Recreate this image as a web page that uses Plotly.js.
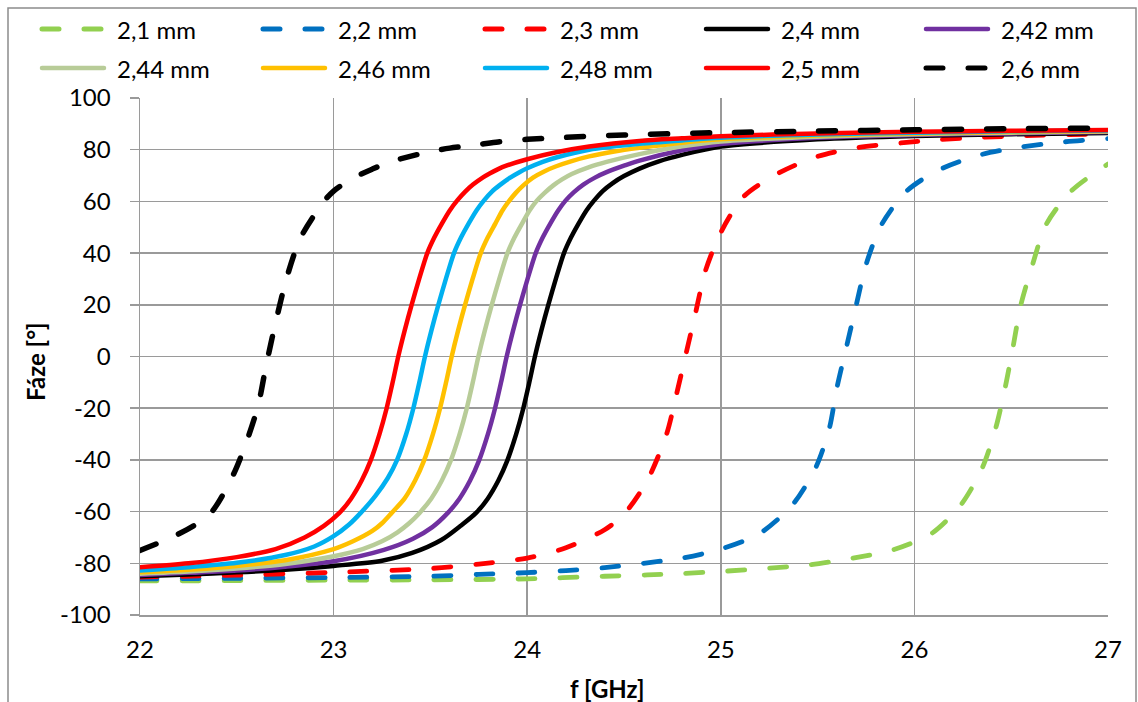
<!DOCTYPE html>
<html>
<head>
<meta charset="utf-8">
<script src="https://cdn.plot.ly/plotly-3.0.1.min.js"></script>
<style>
html, body { margin: 0; padding: 0; background: #fff; }
#chart { width: 1138px; height: 702px; }
.js-line { stroke-linecap: round; }
.shapelayer path { stroke-linecap: round; }
</style>
</head>
<body>
<div id="chart"></div>
<script>
// ---- Data ----
const seriesNames = ["2,1 mm", "2,2 mm", "2,3 mm", "2,4 mm", "2,42 mm", "2,44 mm", "2,46 mm", "2,48 mm", "2,5 mm", "2,6 mm"];

const f_21 = [22.0, 22.5, 23.0, 23.5, 24.0, 24.4, 24.62, 24.81, 25.03, 25.25, 25.46, 25.68, 25.89, 26.09, 26.24, 26.35, 26.42, 26.47, 26.51, 26.55, 26.61, 26.68, 26.81, 27.0];
const p_21 = [-86.8, -86.7, -86.5, -86.4, -86.0, -85.0, -84.5, -83.9, -83.0, -81.9, -80.6, -78.0, -74.8, -68.4, -57.4, -43.2, -27.7, -11.6, 3.9, 20.0, 35.5, 51.0, 64.0, 74.5];

const f_22 = [22.0, 22.5, 23.0, 23.5, 23.75, 24.0, 24.2, 24.4, 24.6, 24.8, 25.0, 25.2, 25.37, 25.49, 25.56, 25.6, 25.65, 25.7, 25.75, 25.83, 25.96, 26.13, 26.34, 26.55, 26.77, 27.0];
const p_22 = [-86.0, -85.8, -85.5, -85.0, -84.3, -83.6, -82.8, -81.7, -80.0, -78.0, -74.5, -68.5, -57.4, -43.0, -28.0, -12.0, 4.0, 20.0, 35.5, 51.0, 64.0, 72.3, 78.0, 81.0, 83.0, 84.3];

const f_23 = [22.0, 22.5, 23.0, 23.5, 23.75, 24.0, 24.2, 24.4, 24.5, 24.62, 24.72, 24.77, 24.82, 24.87, 24.92, 25.0, 25.12, 25.3, 25.5, 25.7, 25.93, 26.13, 26.35, 26.56, 26.8, 27.0];
const p_23 = [-85.3, -84.6, -83.5, -82.0, -80.3, -78.0, -74.0, -67.0, -61.0, -48.0, -30.0, -15.0, 1.0, 17.0, 33.0, 48.0, 62.0, 71.0, 77.4, 80.7, 82.6, 83.9, 84.8, 85.4, 85.8, 86.0];

const f_24 = [22.0, 22.25, 22.5, 22.75, 23.0, 23.25, 23.406, 23.556, 23.656, 23.736, 23.796, 23.851, 23.896, 23.943, 23.98, 24.011, 24.04, 24.073, 24.109, 24.148, 24.19, 24.226, 24.266, 24.306, 24.345, 24.39, 24.44, 24.5, 24.58, 24.68, 24.8, 25.0, 25.5, 26.0, 26.5, 27.0];
const p_24 = [-85.0, -84.3, -83.5, -82.5, -81.0, -79.0, -76.0, -71.0, -65.5, -60.5, -55.0, -48.0, -40.5, -30.0, -20.0, -10.0, 0.0, 10.0, 20.0, 30.0, 40.0, 46.0, 51.5, 56.5, 60.3, 64.0, 67.0, 69.8, 72.7, 75.5, 78.0, 81.2, 84.0, 85.3, 86.0, 86.5];

const f_242 = [22.0, 22.25, 22.5, 22.75, 23.0, 23.26, 23.41, 23.51, 23.59, 23.65, 23.705, 23.75, 23.797, 23.834, 23.865, 23.894, 23.927, 23.963, 24.002, 24.044, 24.08, 24.12, 24.16, 24.198, 24.24, 24.29, 24.35, 24.41, 24.5, 24.58, 24.8, 25.0, 25.5, 26.0, 26.5, 27.0];
const p_242 = [-84.5, -83.7, -82.8, -81.3, -79.2, -74.8, -70.5, -66.0, -60.5, -55.0, -48.0, -40.5, -30.0, -20.0, -10.0, 0.0, 10.0, 20.0, 30.0, 40.0, 46.0, 51.5, 56.5, 60.3, 63.5, 66.5, 69.2, 71.3, 73.8, 75.8, 79.8, 82.2, 84.6, 85.7, 86.3, 86.8];

const f_244 = [22.0, 22.25, 22.5, 22.75, 23.0, 23.15, 23.25, 23.33, 23.39, 23.444, 23.504, 23.559, 23.604, 23.651, 23.688, 23.719, 23.748, 23.781, 23.817, 23.856, 23.898, 23.934, 23.974, 24.012, 24.05, 24.09, 24.135, 24.18, 24.23, 24.32, 24.41, 24.58, 24.8, 25.0, 25.5, 26.0, 26.5, 27.0];
const p_244 = [-84.0, -83.2, -82.0, -80.3, -77.3, -74.5, -71.5, -68.0, -64.5, -60.5, -55.0, -48.0, -40.5, -30.0, -20.0, -10.0, 0.0, 10.0, 20.0, 30.0, 40.0, 46.0, 51.5, 56.5, 60.3, 63.3, 66.2, 68.5, 70.6, 73.3, 75.3, 78.3, 81.3, 83.2, 85.0, 86.0, 86.6, 87.0];

const f_246 = [22.0, 22.25, 22.5, 22.75, 23.0, 23.1, 23.2, 23.25, 23.3, 23.366, 23.421, 23.466, 23.513, 23.55, 23.581, 23.61, 23.643, 23.679, 23.718, 23.76, 23.796, 23.836, 23.872, 23.905, 23.94, 23.98, 24.03, 24.09, 24.15, 24.23, 24.32, 24.45, 24.58, 24.8, 25.0, 25.5, 26.0, 26.5, 27.0];
const p_246 = [-83.5, -82.5, -81.0, -78.8, -74.5, -71.5, -67.5, -64.5, -60.5, -55.0, -48.0, -40.5, -30.0, -20.0, -10.0, 0.0, 10.0, 20.0, 30.0, 40.0, 46.0, 51.5, 56.5, 60.0, 63.2, 66.2, 69.2, 71.7, 73.6, 75.6, 77.4, 79.3, 80.7, 82.7, 84.0, 85.5, 86.3, 86.8, 87.2];

const f_248 = [22.0, 22.25, 22.5, 22.75, 22.9, 23.0, 23.08, 23.14, 23.215, 23.28, 23.328, 23.375, 23.412, 23.443, 23.472, 23.505, 23.541, 23.58, 23.622, 23.658, 23.698, 23.738, 23.778, 23.818, 23.858, 23.908, 23.96, 24.0, 24.08, 24.15, 24.32, 24.58, 24.8, 25.0, 25.5, 26.0, 26.5, 27.0];
const p_248 = [-82.8, -81.5, -79.8, -76.8, -73.5, -69.5, -65.0, -60.5, -54.0, -47.0, -40.0, -30.0, -20.0, -10.0, 0.0, 10.0, 20.0, 30.0, 40.0, 46.0, 51.5, 56.5, 60.5, 63.8, 66.3, 69.0, 71.3, 72.8, 75.3, 77.0, 80.0, 82.3, 83.6, 84.6, 85.9, 86.6, 87.1, 87.4];

const f_25 = [22.0, 22.25, 22.5, 22.7, 22.85, 22.95, 23.03, 23.09, 23.145, 23.19, 23.237, 23.274, 23.305, 23.334, 23.367, 23.403, 23.442, 23.484, 23.52, 23.56, 23.6, 23.64, 23.68, 23.72, 23.77, 23.806, 23.85, 23.892, 24.0, 24.15, 24.32, 24.58, 24.8, 25.0, 25.5, 26.0, 26.5, 27.0];
const p_25 = [-81.5, -80.0, -77.6, -74.5, -70.0, -65.5, -60.5, -55.0, -48.0, -40.5, -30.0, -20.0, -10.0, 0.0, 10.0, 20.0, 30.0, 40.0, 46.0, 51.5, 56.5, 60.5, 63.8, 66.5, 69.2, 70.8, 72.5, 73.8, 76.3, 79.0, 81.2, 83.4, 84.4, 85.2, 86.3, 86.9, 87.3, 87.6];

const f_26 = [22.0, 22.19, 22.36, 22.48, 22.55, 22.61, 22.65, 22.7, 22.76, 22.83, 22.95, 23.0, 23.1, 23.2, 23.3, 23.4, 23.5, 23.6, 23.75, 23.85, 24.0, 24.2, 24.5, 25.0, 25.5, 26.0, 26.5, 27.0];
const p_26 = [-75.0, -69.0, -61.0, -46.0, -33.0, -19.0, -4.0, 13.0, 31.0, 46.0, 60.0, 64.0, 69.0, 72.5, 75.5, 77.5, 79.3, 80.6, 82.0, 83.0, 84.0, 84.8, 85.7, 86.6, 87.2, 87.7, 88.1, 88.4];

const seriesX = [f_21, f_22, f_23, f_24, f_242, f_244, f_246, f_248, f_25, f_26];
const seriesY = [p_21, p_22, p_23, p_24, p_242, p_244, p_246, p_248, p_25, p_26];

const xTickVals = [22, 23, 24, 25, 26, 27];
const xTickText = ["22", "23", "24", "25", "26", "27"];
const yTickVals = [-100, -80, -60, -40, -20, 0, 20, 40, 60, 80, 100];
const yTickText = ["-100", "-80", "-60", "-40", "-20", "0", "20", "40", "60", "80", "100"];

// ---- Styles ----
const colors = ["#92D050", "#0070C0", "#FF0000", "#000000", "#7030A0", "#B8CC98", "#FFC000", "#00B0F0", "#FF0000", "#000000"];
const dashed = [true, true, true, false, false, false, false, false, false, true];
const DASH = "17px,25px";
const FONT = "Lato, 'Open Sans', sans-serif";
const FS = 24;

const traces = seriesNames.map((name, i) => ({
  type: "scatter",
  mode: "lines",
  name: name,
  x: seriesX[i],
  y: seriesY[i],
  line: {
    color: colors[i],
    width: i === 9 ? 5.5 : (dashed[i] ? 4.8 : 4.5),
    dash: dashed[i] ? DASH : "solid",
    shape: "spline",
    smoothing: 0.8
  },
  showlegend: false,
  hoverinfo: "skip"
}));

// plot area in pixels
const W = 1138, H = 702;
const L = 140, R = 1108, T = 98, B = 615;
const px = v => (v - L) / (R - L);
const py = v => (B - v) / (B - T);

const shapes = [];
const annotations = [];

// chart-area border
shapes.push({
  type: "rect", xref: "paper", yref: "paper",
  x0: px(8), x1: px(1136), y0: py(712), y1: py(8),
  line: { color: "#8c8c8c", width: 1.5 }, fillcolor: "rgba(0,0,0,0)", layer: "below"
});

// manual legend (2 rows x 5 columns)
const legColX = [40, 261, 483, 704, 924];
const legRowY = [29, 68];
seriesNames.forEach((name, i) => {
  const c = i % 5, r = Math.floor(i / 5);
  const x0 = legColX[c], y = legRowY[r];
  shapes.push({
    type: "line", xref: "paper", yref: "paper",
    x0: px(x0 + 2), x1: px(x0 + 64), y0: py(y), y1: py(y),
    line: { color: colors[i], width: dashed[i] ? 5 : 4.5, dash: dashed[i] ? DASH : "solid" }
  });
  annotations.push({
    xref: "paper", yref: "paper", x: px(x0 + 75), y: py(y),
    xanchor: "left", yanchor: "middle", showarrow: false,
    text: name, font: { family: FONT, size: FS, color: "#000" }
  });
});

// axis titles
annotations.push({
  xref: "paper", yref: "paper", x: px(607), y: py(688),
  xanchor: "center", yanchor: "middle", showarrow: false,
  text: "<b>f [GHz]</b>", font: { family: FONT, size: FS, color: "#000" }
});
annotations.push({
  xref: "paper", yref: "paper", x: px(35), y: py(362),
  xanchor: "center", yanchor: "middle", showarrow: false, textangle: -90,
  text: "<b>Fáze [°]</b>", font: { family: FONT, size: FS, color: "#000" }
});

const gridCol = "#9a9a9a";
const layout = {
  width: W, height: H,
  margin: { l: L, r: W - R, t: T, b: H - B, pad: 0 },
  paper_bgcolor: "#fff", plot_bgcolor: "#fff",
  showlegend: false,
  font: { family: FONT, size: FS, color: "#000" },
  xaxis: {
    range: [22, 27], tickvals: xTickVals, ticktext: xTickText,
    showgrid: true, gridcolor: gridCol, gridwidth: 1.5,
    showline: true, linecolor: gridCol, linewidth: 1.5, mirror: false,
    ticks: "", ticklabelstandoff: 13, zeroline: false,
    tickfont: { family: FONT, size: FS, color: "#000" }, fixedrange: true
  },
  yaxis: {
    range: [-100, 100], tickvals: yTickVals, ticktext: yTickText,
    showgrid: true, gridcolor: gridCol, gridwidth: 1.5,
    showline: true, linecolor: gridCol, linewidth: 1.5,
    ticks: "outside", ticklen: 9, tickcolor: gridCol, tickwidth: 1.5,
    ticklabelstandoff: 14, zeroline: false,
    tickfont: { family: FONT, size: FS, color: "#000" }, fixedrange: true
  },
  shapes: shapes,
  annotations: annotations
};

Plotly.newPlot("chart", traces, layout, { displayModeBar: false, staticPlot: true });
</script>
</body>
</html>
